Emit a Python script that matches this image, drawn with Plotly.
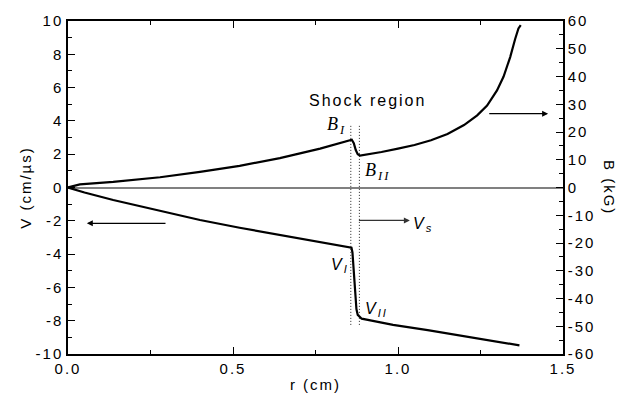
import plotly.graph_objects as go

# ---- data ----
r_V = [0, 0.05, 0.137, 0.279, 0.40, 0.52, 0.64, 0.76, 0.859, 0.862, 0.866, 0.870,
       0.874, 0.878, 0.884, 0.89, 0.92, 0.985, 1.09, 1.188, 1.28, 1.368]
V = [0, -0.30, -0.75, -1.40, -1.95, -2.42, -2.85, -3.26, -3.62, -3.9, -5.0, -6.3,
     -7.3, -7.65, -7.8, -7.88, -8.0, -8.25, -8.57, -8.89, -9.18, -9.48]

r_B = [0, 0.036, 0.137, 0.279, 0.40, 0.52, 0.642, 0.764, 0.86, 0.866, 0.872, 0.878,
       0.885, 0.915, 0.95, 1.0, 1.05, 1.10, 1.15, 1.20, 1.24, 1.27, 1.30,
       1.32, 1.34, 1.355, 1.365, 1.372]
B = [0, 1.1, 2.0, 3.7, 5.6, 7.8, 10.6, 14.0, 17.2, 16.0, 13.5, 12.0,
     11.5, 12.0, 12.8, 14.0, 15.3, 17.0, 19.3, 22.5, 26.0, 29.5, 35.0,
     40.0, 47.0, 53.5, 57.3, 58.5]

shock_r = [0.857, 0.883]
shock_V = [-8.25, 3.76]

x_tickvals = [0, 0.5, 1.0, 1.5]
x_ticktext = ["0.0", "0.5", "1.0", "1.5"]
y_tickvals = [-10, -8, -6, -4, -2, 0, 2, 4, 6, 8, 10]
y_ticktext = ["-10", "-8", "-6", "-4", "-2", "0", "2", "4", "6", "8", "10"]
y2_tickvals = [-60, -50, -40, -30, -20, -10, 0, 10, 20, 30, 40, 50, 60]
y2_ticktext = ["-60", "-50", "-40", "-30", "-20", "-10", "0", "10", "20", "30", "40", "50", "60"]

FONT = "Liberation Sans, Arial, Helvetica, sans-serif"
SERIF = "Liberation Serif, Times New Roman, serif"

fig = go.Figure()

fig.add_trace(go.Scatter(x=r_V, y=V, mode="lines", line=dict(color="black", width=2.2),
                         yaxis="y", showlegend=False, hoverinfo="skip"))
fig.add_trace(go.Scatter(x=r_B, y=B, mode="lines", line=dict(color="black", width=2.2),
                         yaxis="y2", showlegend=False, hoverinfo="skip"))
for xr in shock_r:
    fig.add_trace(go.Scatter(x=[xr, xr], y=shock_V, mode="lines",
                             line=dict(color="#222222", width=1, dash="1px,2px"),
                             yaxis="y", showlegend=False, hoverinfo="skip"))

axis_common = dict(showgrid=False, showline=True, linecolor="black", linewidth=1.5,
                   ticks="inside", tickcolor="black", tickwidth=1.2, ticklen=7,
                   tickfont=dict(family=FONT, size=15, color="black"))

fig.update_layout(
    width=641, height=403,
    margin=dict(l=68, r=78, t=17, b=48),
    paper_bgcolor="white", plot_bgcolor="white",
    font=dict(family=FONT, size=15, color="black"),
    xaxis=dict(range=[0, 1.5], tickvals=x_tickvals, ticktext=x_ticktext,
               mirror="ticks",
               minor=dict(dtick=0.25, tick0=0, ticks="inside", ticklen=4, tickcolor="black", tickwidth=1.2),
               title=dict(text="r (cm)", font=dict(family=FONT, size=15), standoff=4),
               zeroline=False, **axis_common),
    yaxis=dict(range=[-10, 10], tickvals=y_tickvals, ticktext=y_ticktext,
               minor=dict(dtick=1, tick0=0, ticks="inside", ticklen=4, tickcolor="black", tickwidth=1.2),
               title=dict(text="V (cm/µs)", font=dict(family=FONT, size=15), standoff=6),
               zeroline=True, zerolinecolor="#808080", zerolinewidth=1.5,
               **axis_common),
    yaxis2=dict(range=[-60, 60], tickvals=y2_tickvals, ticktext=y2_ticktext,
                overlaying="y", side="right", zeroline=False,
                minor=dict(dtick=5, tick0=0, ticks="inside", ticklen=4, tickcolor="black", tickwidth=1.2),
                **axis_common),
)

annotations = [
    dict(text="B (kG)", x=1.0, xref="paper", xshift=57, y=0.5, yref="paper",
         textangle=90, showarrow=False, font=dict(family=FONT, size=15)),
    dict(text="Shock region", x=0.909, y=5.25, xref="x", yref="y", showarrow=False,
         font=dict(family=FONT, size=16)),
    dict(text="<i>B</i><sub><i>I</i></sub>", x=0.815, y=3.75, xref="x", yref="y",
         showarrow=False, font=dict(family=SERIF, size=18)),
    dict(text="<i>B</i><sub><i>II</i></sub>", x=0.94, y=0.95, xref="x", yref="y",
         showarrow=False, font=dict(family=SERIF, size=18)),
    dict(text="<i>V</i><sub><i>s</i></sub>", x=1.076, y=-2.25, xref="x", yref="y",
         showarrow=False, font=dict(family=FONT, size=16)),
    dict(text="<i>V</i><sub><i>I</i></sub>", x=0.824, y=-4.7, xref="x", yref="y",
         showarrow=False, font=dict(family=FONT, size=16)),
    dict(text="<i>V</i><sub><i>II</i></sub>", x=0.936, y=-7.35, xref="x", yref="y",
         showarrow=False, font=dict(family=FONT, size=16)),
    # arrows
    dict(text="", x=0.057, y=-2.15, ax=0.30, ay=-2.15, xref="x", yref="y",
         axref="x", ayref="y", showarrow=True, arrowhead=2, arrowsize=1,
         arrowwidth=1.2, arrowcolor="black"),
    dict(text="", x=1.036, y=-1.98, ax=0.877, ay=-1.98, xref="x", yref="y",
         axref="x", ayref="y", showarrow=True, arrowhead=2, arrowsize=1,
         arrowwidth=1.2, arrowcolor="#333333"),
    dict(text="", x=1.455, y=26.6, ax=1.272, ay=26.6, xref="x", yref="y2",
         axref="x", ayref="y2", showarrow=True, arrowhead=2, arrowsize=1,
         arrowwidth=1.2, arrowcolor="black"),
]
fig.update_layout(annotations=annotations)

post = """
var st = document.createElement('style');
st.innerHTML = '.main-svg text { letter-spacing: 2px; }';
document.head.appendChild(st);
"""
fig.write_html("out.html", post_script=post)
